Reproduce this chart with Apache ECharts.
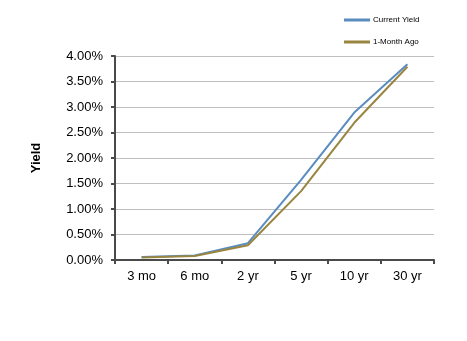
<!DOCTYPE html>
<html>
<head>
<meta charset="utf-8">
<script src="https://cdn.jsdelivr.net/npm/echarts@6/dist/echarts.min.js"></script>
<style>
  html, body { margin: 0; padding: 0; background: #ffffff; }
  #chart { width: 467px; height: 341px; }
</style>
</head>
<body>
<div id="chart"></div>
<script>
// Treasury yield curve: maturities and yields (%)
var maturities = ['3 mo', '6 mo', '2 yr', '5 yr', '10 yr', '30 yr'];
var currentYield = [0.06, 0.09, 0.33, 1.57, 2.89, 3.84];
var monthAgoYield = [0.05, 0.08, 0.29, 1.35, 2.69, 3.79];
var seriesNames = ['Current Yield', '1-Month Ago'];

var chart = echarts.init(document.getElementById('chart'), null, { renderer: 'canvas' });

var font = '"Liberation Sans", Arial, sans-serif';

chart.setOption({
  animation: false,
  backgroundColor: '#ffffff',
  legend: {
    orient: 'vertical',
    left: 339,
    top: 10,
    itemWidth: 26,
    itemHeight: 3,
    itemGap: 12,
    icon: 'rect',
    data: seriesNames,
    textStyle: { fontFamily: font, fontSize: 8, color: '#000000', lineHeight: 10, padding: [0, 0, 0, -2] }
  },
  grid: { left: 115, right: 33, top: 56, bottom: 81 },
  xAxis: {
    type: 'category',
    data: maturities,
    boundaryGap: true,
    axisLine: { lineStyle: { color: '#4a4a4a', width: 2 } },
    axisTick: { show: true, length: 4, lineStyle: { color: '#4a4a4a', width: 2 } },
    axisLabel: { fontFamily: font, fontSize: 13, color: '#000000', margin: 10 }
  },
  yAxis: {
    type: 'value',
    min: 0,
    max: 4,
    interval: 0.5,
    name: 'Yield',
    nameLocation: 'middle',
    nameGap: 72,
    nameRotate: 90,
    nameTextStyle: { fontFamily: font, fontSize: 13, fontWeight: 'bold', color: '#000000' },
    axisLine: { show: true, lineStyle: { color: '#4a4a4a', width: 2 } },
    axisTick: { show: true, length: 4, lineStyle: { color: '#4a4a4a', width: 2 } },
    axisLabel: {
      fontFamily: font, fontSize: 13, color: '#000000', margin: 12,
      formatter: function (v) { return v.toFixed(2) + '%'; }
    },
    splitLine: { lineStyle: { color: '#bfbfbf', width: 1 } }
  },
  series: [
    {
      name: seriesNames[0],
      type: 'line',
      data: currentYield,
      symbol: 'none',
      lineStyle: { color: '#5a8cc0', width: 2 },
      itemStyle: { color: '#5a8cc0' },
      z: 3
    },
    {
      name: seriesNames[1],
      type: 'line',
      data: monthAgoYield,
      symbol: 'none',
      lineStyle: { color: '#9a8540', width: 2 },
      itemStyle: { color: '#9a8540' },
      z: 4
    }
  ]
});
</script>
</body>
</html>
